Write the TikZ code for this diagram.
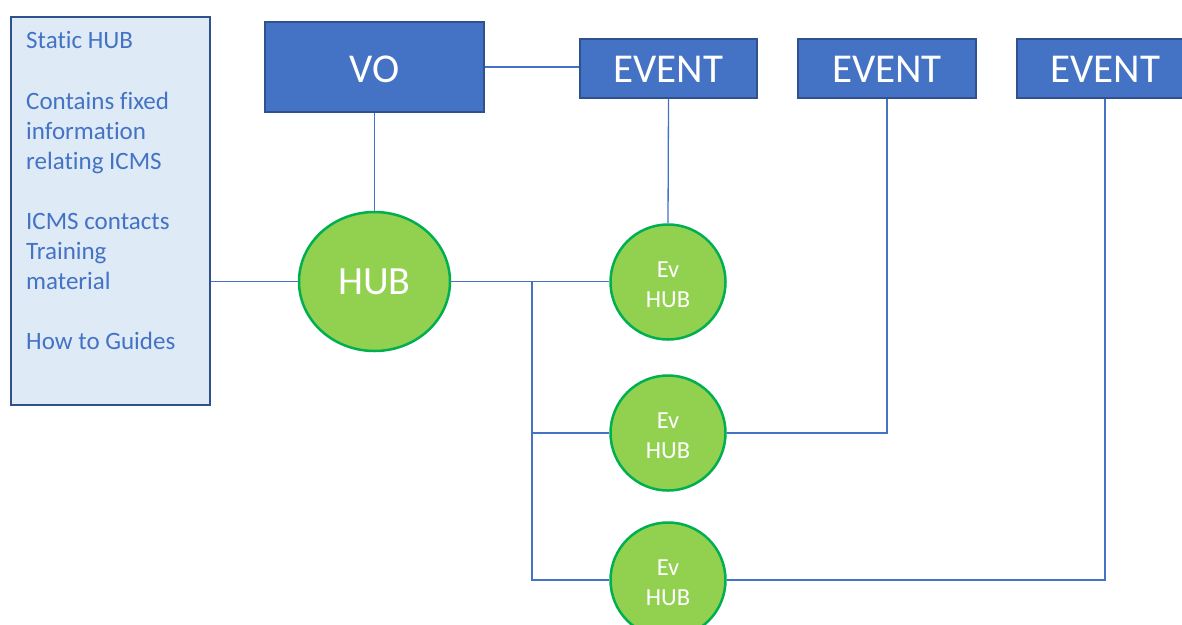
\documentclass[tikz,border=0pt]{standalone}
\usepackage{fontspec}
\setmainfont{Carlito}[Ligatures=NoCommon]
\usetikzlibrary{shapes.geometric}
\definecolor{boxblue}{HTML}{4472C4}
\definecolor{darkblue}{HTML}{2F528F}
\definecolor{paleblue}{HTML}{DEEBF7}
\definecolor{hubgreen}{HTML}{92D050}
\definecolor{hubedge}{HTML}{00B050}
\tikzset{
  bluebox/.style={draw=darkblue, fill=boxblue, line width=2pt, inner sep=0pt, text=white, font=\fontsize{41}{49}\selectfont},
  hubnode/.style={draw=hubedge, fill=hubgreen, line width=2.5pt, inner sep=0pt, text=white},
  evhub/.style={hubnode, circle, minimum size=115pt, align=center, font=\fontsize{24.5}{30}\selectfont},
  conn/.style={draw=boxblue, line width=1.3pt},
  sidetext/.style={anchor=base west, inner sep=0pt, text=boxblue, font=\fontsize{25}{30}\selectfont}
}
\begin{document}
\begin{tikzpicture}[x=1pt,y=-1pt]
\useasboundingbox (0,0) rectangle (1182,624);
% left info box
\node[draw=darkblue, fill=paleblue, line width=2pt, minimum width=199pt, minimum height=388pt, inner sep=0pt] (L) at (110,210.5) {};
\node[sidetext] (t1) at (26,48) {Static HUB};
\node[sidetext] (t2) at (26,109) {Contains fixed};
\node[sidetext] (t3) at (26,139) {information};
\node[sidetext] (t4) at (26,169) {relating ICMS};
\node[sidetext] (t5) at (26,229) {ICMS contacts};
\node[sidetext] (t6) at (26,259) {Training};
\node[sidetext] (t7) at (26,289) {material};
\node[sidetext] (t8) at (26,349) {How to Guides};
% boxes
\node[bluebox, minimum width=219pt, minimum height=90pt, text height=30pt, text depth=0pt] (VO) at (374.5,67) {VO};
\node[bluebox, minimum width=177pt, minimum height=59pt, text height=27pt, text depth=0pt] (E1) at (668.5,68.5) {EVENT};
\node[bluebox, minimum width=178pt, minimum height=59pt, text height=27pt, text depth=0pt] (E2) at (887,68.5) {EVENT};
\node[bluebox, minimum width=200pt, minimum height=59pt, text height=27pt, text depth=0pt, text width=178pt, align=center] (E3) at (1116.5,68.5) {EVENT\hspace*{22pt}};
% hubs
\node[hubnode, ellipse, minimum width=151pt, minimum height=139pt, font=\fontsize{40}{48}\selectfont] (HUB) at (374.5,281.5) {HUB};
\node[evhub, text height=50pt, text depth=0pt] (EH1) at (668,282) {Ev\\HUB};
\node[evhub, text height=50pt, text depth=0pt] (EH2) at (668,433) {Ev\\HUB};
\node[evhub, text height=50pt, text depth=0pt] (EH3) at (668,580) {Ev\\HUB};
\coordinate (br) at (532,282);
% connectors
\draw[conn] (HUB.west) -- (HUB.west -| L.east);
\draw[conn] (VO.south) -- (HUB.north);
\draw[conn] (VO.east) -- (VO.east -| E1.west);
\draw[conn] (E1.south) -- (EH1.north);
\draw[conn] (HUB.east) -- (HUB.east -| EH1.west);
\draw[conn] (br) -- (br |- EH3.west) -- (EH3.west);
\draw[conn] (br |- EH2.west) -- (EH2.west);
\draw[conn] (EH2.east) -- (EH2.east -| E2.south) -- (E2.south);
\draw[conn] (EH3.east) -- ([xshift=-11.5pt]EH3.east -| E3.south) -- ([xshift=-11.5pt]E3.south);
\end{tikzpicture}
\end{document}
